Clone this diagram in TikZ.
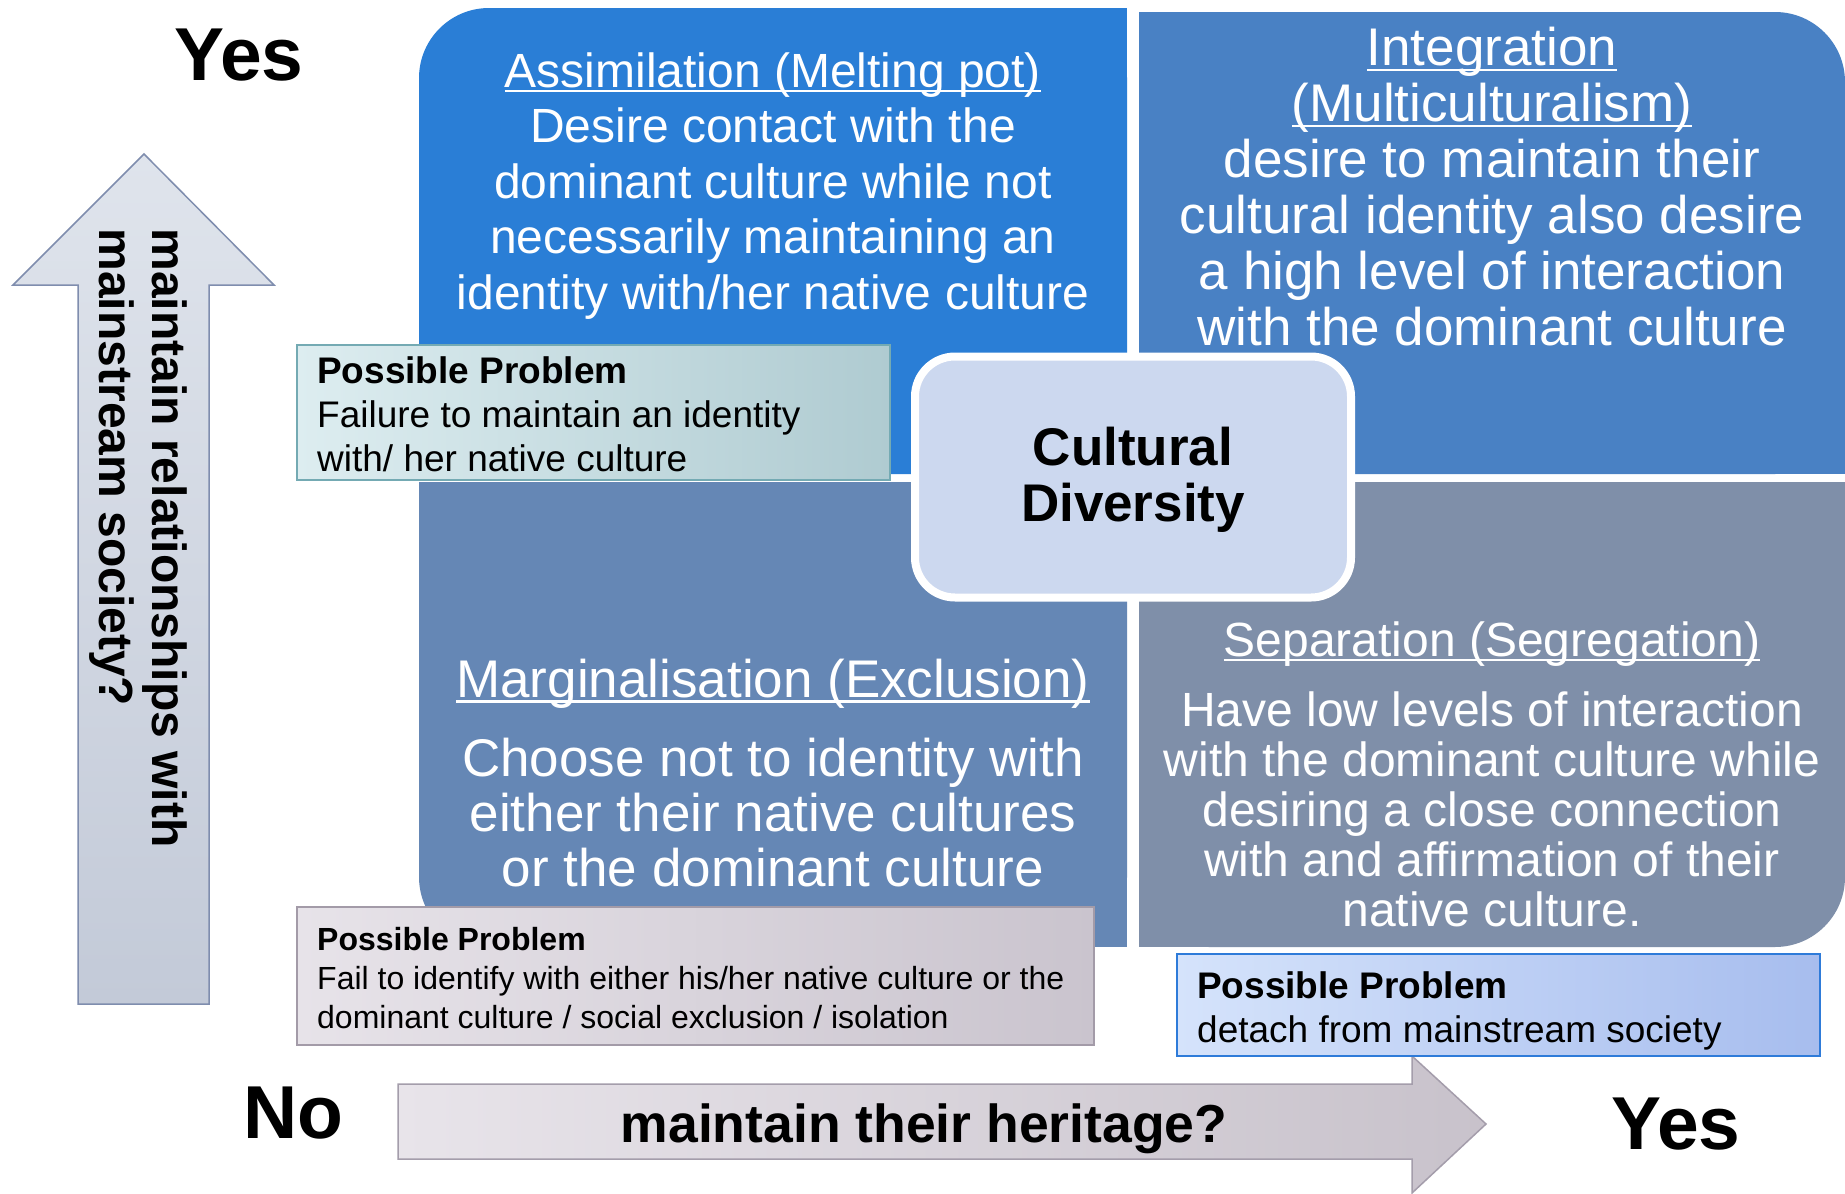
\documentclass[tikz,border=0pt]{standalone}
\usepackage{fontspec}
\setmainfont{Liberation Sans}
\definecolor{qtl}{HTML}{2A7ED6}
\definecolor{qtr}{HTML}{4981C4}
\definecolor{qbl}{HTML}{6587B5}
\definecolor{qbr}{HTML}{7F8FA9}
\definecolor{cdfill}{HTML}{CCD8EF}
\definecolor{ppAl}{HTML}{DDEDF0}
\definecolor{ppAr}{HTML}{AFCBD1}
\definecolor{ppAd}{HTML}{74AAB3}
\definecolor{ppBl}{HTML}{E7E3E9}
\definecolor{ppBr}{HTML}{CAC4CE}
\definecolor{ppBd}{HTML}{A39BA8}
\definecolor{ppCl}{HTML}{D5E3FB}
\definecolor{ppCr}{HTML}{A7BDEE}
\definecolor{ppCd}{HTML}{2E7BD9}
\definecolor{uaT}{HTML}{DFE4EC}
\definecolor{uaB}{HTML}{C3CAD8}
\definecolor{uaD}{HTML}{7F8DAE}
\definecolor{raL}{HTML}{E8E4EA}
\definecolor{raR}{HTML}{C8C2CB}
\definecolor{raD}{HTML}{A49DAB}
\newcommand\uln[1]{\setbox0=\hbox{#1}\rlap{\rule[-0.1em]{\wd0}{0.05em}}\box0}
\tikzset{
  qtext/.style={text=white, align=center, inner sep=0pt},
  ppbox/.style={inner sep=0pt, line width=1.5pt},
  pptext/.style={anchor=west, align=left, inner sep=0pt, text=black},
  biglab/.style={font=\bfseries\fontsize{75}{80}\selectfont, inner sep=0pt}
}
\begin{document}
\begin{tikzpicture}[x=1pt,y=-1pt]
\path[use as bounding box, fill=white] (0,0) rectangle (1845,1194);

% arrows
\draw[line width=1.5pt, draw=uaD, top color=uaT, bottom color=uaB]
  (78,1004) -- (78,285) -- (13,285) -- (144,154) -- (274,285) -- (209,285) -- (209,1004) -- cycle;
\node[rotate=-90, align=left, inner sep=0pt, font=\bfseries\fontsize{48}{53}\selectfont] (vlab) at (138,538) {maintain relationships with\\mainstream society?};

\draw[line width=1.5pt, draw=raD, left color=raL, right color=raR]
  (398,1084) -- (1412,1084) -- (1412,1056) -- (1486,1124) -- (1412,1193) -- (1412,1159) -- (398,1159) -- cycle;
\node[inner sep=0pt, font=\bfseries\fontsize{53.5}{56}\selectfont] (hlab) at (924,1129) {maintain their heritage?};

% quadrants
\fill[qtl, rounded corners=70pt] (419,8) rectangle (1127,474);
\fill[qtl] (489,8) rectangle (1127,474);
\fill[qtl] (419,78) rectangle (1127,474);

\fill[qtr, rounded corners=70pt] (1139,12) rectangle (1845,474);
\fill[qtr] (1139,12) rectangle (1775,474);
\fill[qtr] (1139,82) rectangle (1845,474);

\fill[qbl, rounded corners=70pt] (419,482) rectangle (1127,947);
\fill[qbl] (489,482) rectangle (1127,947);
\fill[qbl] (419,482) rectangle (1127,877);

\fill[qbr, rounded corners=70pt] (1139,482) rectangle (1845,947);
\fill[qbr] (1139,482) rectangle (1775,947);
\fill[qbr] (1139,482) rectangle (1845,877);

% quadrant texts
\node[qtext, font=\fontsize{48}{55.5}\selectfont] (tltext) at (773,186)
  {\uln{Assimilation (Melting pot)}\\Desire contact with the\\dominant culture while not\\necessarily maintaining an\\identity with/her native culture};
\node[qtext, font=\fontsize{53}{56}\selectfont] (trtext) at (1492,187)
  {\uln{Integration}\\\uln{(Multiculturalism)}\\desire to maintain their\\cultural identity also desire\\a high level of interaction\\with the dominant culture};
\node[qtext, font=\fontsize{53}{56}\selectfont] (bltitle) at (773,684) {\uln{Marginalisation (Exclusion)}};
\node[qtext, font=\fontsize{53}{55}\selectfont] (bltext) at (773,813)
  {Choose not to identity with\\either their native cultures\\or the dominant culture};
\node[qtext, font=\fontsize{48}{52}\selectfont] (brtitle) at (1492,644) {\uln{Separation (Segregation)}};
\node[qtext, font=\fontsize{48}{50}\selectfont] (brtext) at (1492,809)
  {Have low levels of interaction\\with the dominant culture while\\desiring a close connection\\with and affirmation of their\\native culture.};

% centre
\node[draw=white, line width=8pt, fill=cdfill, rounded corners=40pt, minimum width=436pt, minimum height=241pt, inner sep=0pt] (cd) at (1133,477) {};
\node[align=center, inner sep=0pt, font=\bfseries\fontsize{53}{56}\selectfont] (cdtext) at (1133,480) {Cultural\\Diversity};

% possible problem boxes
\node[ppbox, draw=ppAd, left color=ppAl, right color=ppAr, minimum width=593pt, minimum height=135pt] (pp1) at (593.5,412.5) {};
\node[pptext, font=\fontsize{37}{44}\selectfont] (pp1text) at (317,414)
  {\textbf{Possible Problem}\\Failure to maintain an identity\\with/ her native culture};

\node[ppbox, draw=ppBd, left color=ppBl, right color=ppBr, minimum width=797pt, minimum height=138pt] (pp2) at (695.5,976) {};
\node[pptext, font=\fontsize{32}{39}\selectfont] (pp2text) at (317,978)
  {\textbf{Possible Problem}\\Fail to identify with either his/her native culture or the\\dominant culture / social exclusion / isolation};

\node[ppbox, draw=ppCd, left color=ppCl, right color=ppCr, minimum width=643pt, minimum height=102pt] (pp3) at (1498.5,1005) {};
\node[pptext, font=\fontsize{37}{44}\selectfont] (pp3text) at (1197,1011)
  {\textbf{Possible Problem}\\detach from mainstream society};

% yes / no labels
\node[biglab] (yestop) at (239,55) {Yes};
\node[biglab] (no) at (293,1113) {No};
\node[biglab] (yesright) at (1676,1124) {Yes};
\end{tikzpicture}
\end{document}
